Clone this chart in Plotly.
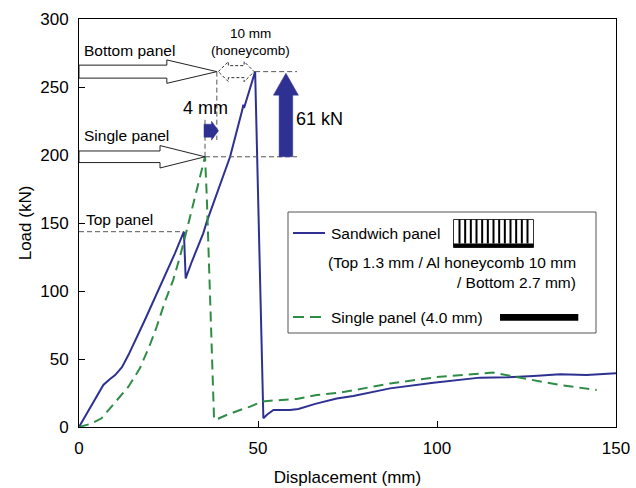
import plotly.graph_objects as go

# ---------------- data ----------------
sand_x = [0, 2.0, 4.5, 6.8, 8.5, 10.1, 12.0, 13.8, 18.4, 23.1, 26.8, 29.3, 29.8, 31.5, 34.7, 35.7,
          39.8, 42.2, 45.6, 45.9, 46.1, 49.2, 51.5, 52.5, 54.3, 58.9, 61.3, 66.0, 72.0, 76.6, 86.9,
          99.0, 112.0, 119.5, 127.0, 134.4, 141.8, 150.0]
sand_y = [0, 9.0, 20.0, 30.9, 35.0, 38.2, 44.0, 52.9, 78.7, 105.6, 127.7, 143.6, 109.3, 121.5, 142.4, 151.0,
          181.6, 198.7, 233.0, 237.0, 234.5, 261.3, 6.4, 9.0, 12.5, 12.5, 13.2, 17.0, 21.0, 22.8, 28.4,
          32.6, 36.3, 36.5, 37.5, 38.7, 38.2, 39.5]

single_x = [0, 1.0, 3.5, 6.3, 9.1, 13.8, 17.0, 19.8, 21.7, 24.0, 26.3, 28.2, 30.1, 32.6, 35.2, 35.7,
            36.6, 37.7, 38.0, 41.2, 45.0, 47.8, 51.0, 53.4, 60.8, 66.4, 72.9, 86.9, 100.8, 115.7,
            124.1, 134.4, 144.6]
single_y = [0, 0.8, 2.5, 6.4, 14.9, 29.6, 43.1, 60.3, 73.7, 92.1, 108.0, 125.2, 144.9, 171.0, 198.7, 169.0,
            96.0, 7.6, 5.1, 8.8, 12.5, 15.0, 18.6, 19.3, 20.6, 23.5, 25.2, 32.0, 37.0, 40.0,
            35.8, 30.9, 27.2]

x_ticks = [0, 50, 100, 150]
y_ticks = [0, 50, 100, 150, 200, 250, 300]

legend_sandwich = "Sandwich panel"
legend_sandwich_l2 = "(Top 1.3 mm / Al honeycomb 10 mm"
legend_sandwich_l3 = "/ Bottom 2.7 mm)"
legend_single = "Single panel (4.0 mm)"

# key annotation values (mm / kN)
top_panel_load = max(y for x, y in zip(sand_x, sand_y) if x < 30)
top_panel_x = sand_x[sand_y.index(top_panel_load)]
sand_peak = max(sand_y)
sand_peak_x = sand_x[sand_y.index(sand_peak)]
single_peak = max(single_y)
single_peak_x = single_x[single_y.index(single_peak)]
bottom_tip_x = 38.5
gain_x = 57.8
gain_text = "61 kN"

# ---------------- geometry helpers ----------------
L, R, T, B = 79, 20, 19, 61
W, H = 636, 488
PW, PH = W - L - R, H - T - B
KX = 150 / PW
KY = 300 / PH

def X(px):
    return (px - L) * KX

def Y(py):
    return (T + PH - py) * KY

def dx(p):
    return p * KX

def dy(p):
    return p * KY

BLUE = "#2E3192"
GREEN = "#2F8C46"
FONT = "Liberation Sans, Arial, sans-serif"

fig = go.Figure()
fig.add_trace(go.Scatter(x=sand_x, y=sand_y, mode="lines",
                         line=dict(color=BLUE, width=2), showlegend=False, hoverinfo="skip"))
fig.add_trace(go.Scatter(x=single_x, y=single_y, mode="lines",
                         line=dict(color=GREEN, width=2, dash="10px,6px"), showlegend=False, hoverinfo="skip"))

shapes = []

def path_from(pts):
    return "M " + " L ".join(f"{a:.4f},{b:.4f}" for a, b in pts) + " Z"

def hollow_arrow(x0, xt, yc, head_len_px, shaft_half_px, head_half_px):
    xh = xt - dx(head_len_px)
    sh, hh = dy(shaft_half_px), dy(head_half_px)
    pts = [(x0, yc - sh), (xh, yc - sh), (xh, yc - hh), (xt, yc), (xh, yc + hh), (xh, yc + sh), (x0, yc + sh)]
    return path_from(pts)

def dashed(x0, y0, x1, y1):
    shapes.append(dict(type="line", xref="x", yref="y", x0=x0, y0=y0, x1=x1, y1=y1,
                       line=dict(color="#555555", width=1, dash="5px,3px")))

# dashed guide lines
dashed(0, top_panel_load, top_panel_x, top_panel_load)
dashed(single_peak_x, single_peak, X(297), single_peak)
dashed(single_peak_x, single_peak, single_peak_x, Y(118))
dashed(sand_peak_x, sand_peak, X(297), sand_peak)
dashed(bottom_tip_x, sand_peak, bottom_tip_x, Y(140))

# hollow arrows
shapes.append(dict(type="path", xref="x", yref="y",
                   path=hollow_arrow(0, bottom_tip_x, sand_peak, 50, 6.5, 11.7),
                   fillcolor="white", line=dict(color="#222222", width=1)))
shapes.append(dict(type="path", xref="x", yref="y",
                   path=hollow_arrow(0, single_peak_x, single_peak, 45, 5.8, 11.2),
                   fillcolor="white", line=dict(color="#222222", width=1)))

# dotted double-headed arrow (honeycomb)
xl, xr, yc = bottom_tip_x + dx(1.5), sand_peak_x - dx(1), sand_peak
hl, sh, hh = dx(10), dy(6), dy(10)
dbl = [(xl, yc), (xl + hl, yc + hh), (xl + hl, yc + sh), (xr - hl, yc + sh), (xr - hl, yc + hh), (xr, yc),
       (xr - hl, yc - hh), (xr - hl, yc - sh), (xl + hl, yc - sh), (xl + hl, yc - hh)]
shapes.append(dict(type="path", xref="x", yref="y", path=path_from(dbl),
                   fillcolor="rgba(255,255,255,0)", line=dict(color="#333333", width=1, dash="3px,2px")))

# 4 mm blue arrow
y4 = Y(130.7)
a4 = [(X(204), y4 - dy(6.5)), (X(211.5), y4 - dy(6.5)), (X(211.5), y4 - dy(9.5)), (X(218.5), y4),
      (X(211.5), y4 + dy(9.5)), (X(211.5), y4 + dy(6.5)), (X(204), y4 + dy(6.5))]
shapes.append(dict(type="path", xref="x", yref="y", path=path_from(a4), fillcolor=BLUE,
                   line=dict(color=BLUE, width=0.5)))

# big 61 kN arrow
ytip = sand_peak - dy(1.5)
yhb = ytip - dy(22)
big = [(gain_x - dx(6.8), single_peak), (gain_x + dx(6.8), single_peak), (gain_x + dx(6.8), yhb),
       (gain_x + dx(12.5), yhb), (gain_x, ytip), (gain_x - dx(12.5), yhb), (gain_x - dx(6.8), yhb)]
shapes.append(dict(type="path", xref="x", yref="y", path=path_from(big), fillcolor=BLUE,
                   line=dict(color=BLUE, width=0.5)))

# legend box
shapes.append(dict(type="rect", xref="x", yref="y", x0=X(288), y0=Y(333), x1=X(596), y1=Y(212),
                   fillcolor="white", line=dict(color="#555555", width=1)))
shapes.append(dict(type="line", xref="x", yref="y", x0=X(293), y0=Y(233), x1=X(325), y1=Y(233),
                   line=dict(color=BLUE, width=2)))
shapes.append(dict(type="line", xref="x", yref="y", x0=X(293), y0=Y(317), x1=X(327), y1=Y(317),
                   line=dict(color=GREEN, width=2, dash="11px,6px")))
# honeycomb icon
ix0, ix1, iy0, iy1 = 453.5, 533.5, 219.5, 247.5
shapes.append(dict(type="rect", xref="x", yref="y", x0=X(ix0), y0=Y(iy1), x1=X(ix1), y1=Y(iy0),
                   fillcolor="white", line=dict(color="#333333", width=1)))
shapes.append(dict(type="rect", xref="x", yref="y", x0=X(ix0), y0=Y(iy1), x1=X(ix1), y1=Y(243.5),
                   fillcolor="black", line=dict(color="black", width=0)))
n_cells = 13
for i in range(n_cells):
    px = ix0 + 6.0 + i * (ix1 - ix0 - 12.0) / (n_cells - 1)
    shapes.append(dict(type="line", xref="x", yref="y", x0=X(px), y0=Y(iy0), x1=X(px), y1=Y(243.5),
                       line=dict(color="black", width=2)))
# single panel icon
shapes.append(dict(type="rect", xref="x", yref="y", x0=X(500), y0=Y(320.7), x1=X(578.3), y1=Y(314),
                   fillcolor="black", line=dict(color="black", width=0)))

annotations = []

def label(text, px, py, anchor="left", size=15.5):
    annotations.append(dict(text=text, x=X(px), y=Y(py), xref="x", yref="y", showarrow=False,
                            xanchor=anchor, yanchor="middle", font=dict(family=FONT, size=size, color="black")))

label(legend_sandwich, 329, 233)
label(legend_sandwich_l2, 578, 262, "right")
label(legend_sandwich_l3, 578, 282, "right")
label(legend_single, 329, 317)
label("Bottom panel", 82, 50)
label("Single panel", 82, 135)
label("Top panel", 84, 219)
label("10 mm", 250, 33, "center", 13.5)
label("(honeycomb)", 250, 50, "center", 13.5)
label("4 mm", 205.5, 108, "center", 18)
label(gain_text, 294, 119, "left", 18)

fig.update_layout(
    width=W, height=H, autosize=False,
    margin=dict(l=L, r=R, t=T, b=B, pad=0, autoexpand=False),
    paper_bgcolor="white", plot_bgcolor="white",
    font=dict(family=FONT, size=17, color="black"),
    shapes=shapes, annotations=annotations,
    showlegend=False,
)
fig.update_xaxes(range=[0, 150], tickvals=x_ticks, ticks="inside", ticklen=6, tickcolor="black",
                 showline=True, linecolor="black", linewidth=1, mirror=True, showgrid=False, zeroline=False,
                 tickfont=dict(size=17), ticklabelstandoff=6, automargin=False,
                 title=dict(text="Displacement (mm)", font=dict(size=17), standoff=13))
fig.update_yaxes(range=[0, 300], tickvals=y_ticks, ticks="inside", ticklen=6, tickcolor="black",
                 showline=True, linecolor="black", linewidth=1, mirror=True, showgrid=False, zeroline=False,
                 tickfont=dict(size=17), ticklabelstandoff=6, automargin=False,
                 title=dict(text="Load (kN)", font=dict(size=17), standoff=4))

fig.write_html("out.html", config={"responsive": False})
